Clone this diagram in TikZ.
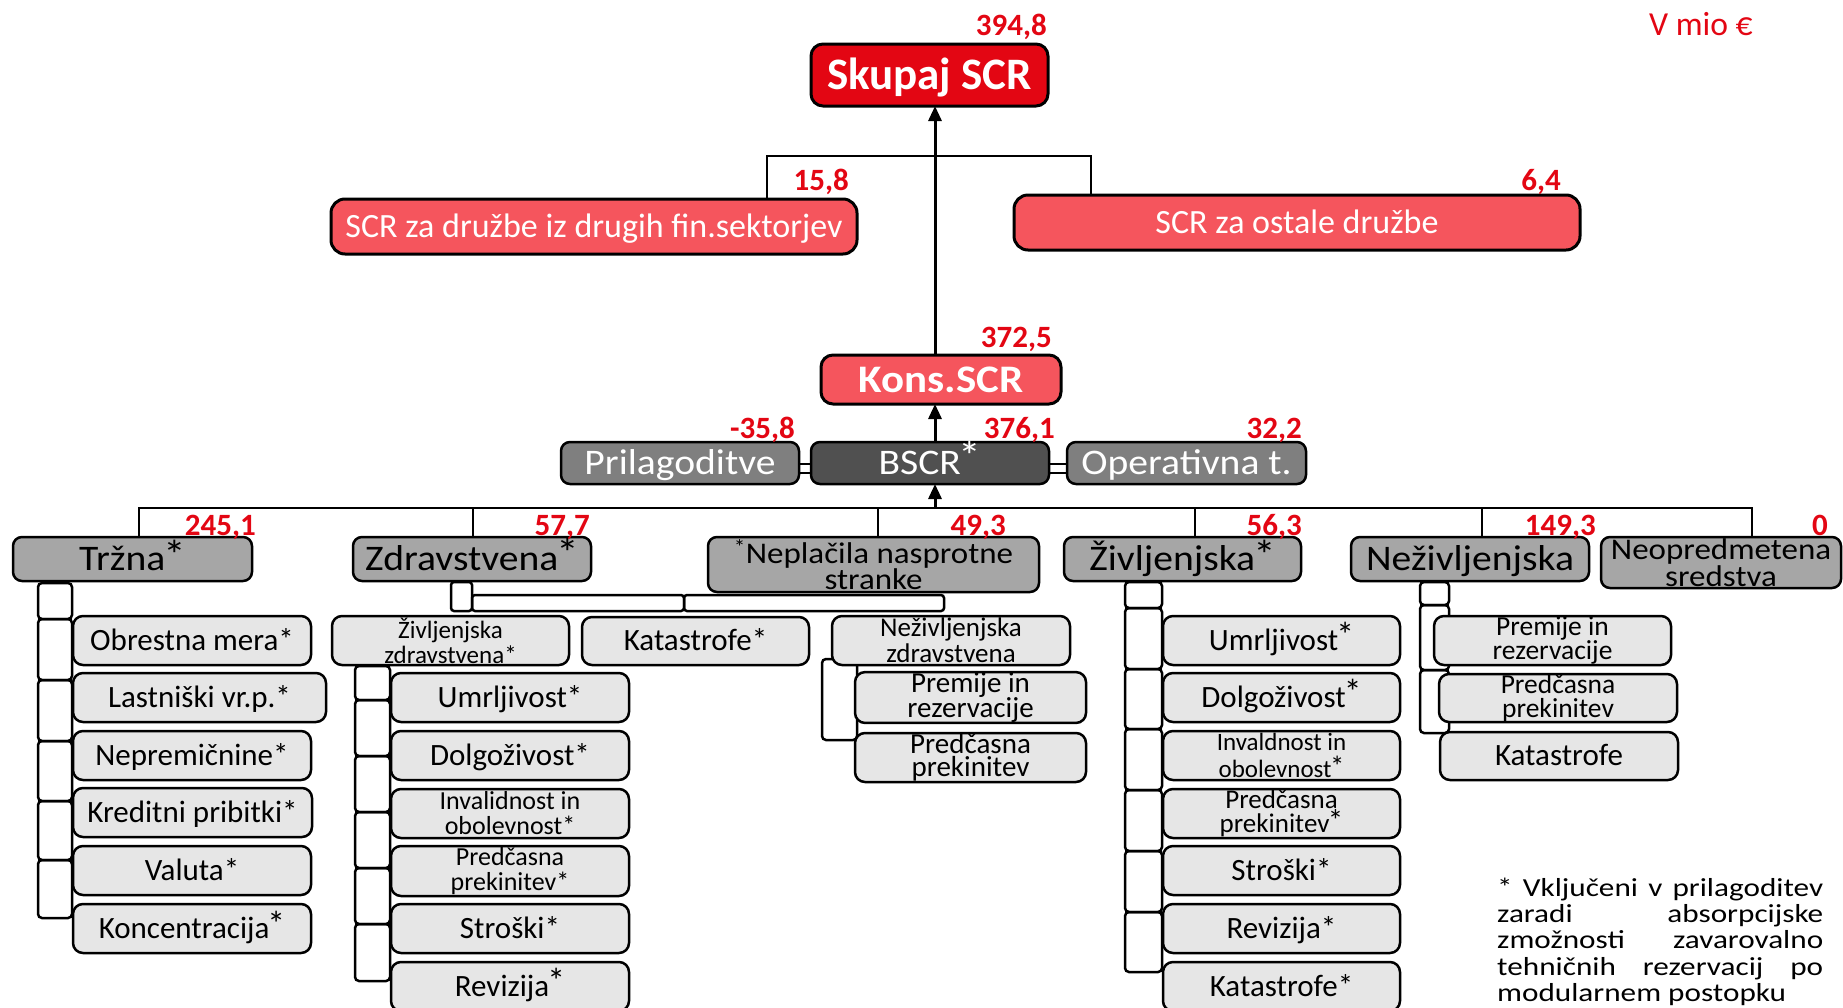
\documentclass[tikz,border=0pt]{standalone}
\usepackage{fontspec}
\setmainfont{Carlito}
\newfontfamily\widefont[FakeStretch=1.1]{Carlito}
\newfontfamily\fnfont[FakeStretch=1.2]{Carlito}
\usetikzlibrary{arrows.meta}
\definecolor{scrred}{HTML}{E30613}
\definecolor{salmon}{HTML}{F5555D}
\definecolor{darkg}{HTML}{505050}
\definecolor{midg}{HTML}{7F7F7F}
\definecolor{catg}{HTML}{A6A6A6}
\definecolor{subg}{HTML}{E6E6E6}
\definecolor{numred}{HTML}{E30613}
\newcommand\bx[7]{\node[#6, minimum width={(#4)-(#2)}, minimum height={(#5)-(#3)}] (#1) at ({((#2)+(#4))/2},{((#3)+(#5))/2}) {#7};}
\newcommand\ladder[3]{\foreach \ya/\yb in {#3}{\draw[conn, rounded corners=4pt] (#1,\ya) rectangle (#2,\yb);}}
\newcommand\astr[1]{\kern-.06em\raisebox{#1}{\scalebox{1.15}{*}}}
\tikzset{
 onel/.style={text height=#1, text depth=0pt},
 topbox/.style={draw=black, line width=3pt, rounded corners=12pt, inner sep=0pt, outer sep=0pt, text=white},
 catbox/.style={draw=black, line width=2.5pt, rounded corners=9pt, inner sep=0pt, outer sep=0pt, fill=catg, onel=23pt, font=\widefont\fontsize{36}{36}\selectfont},
 cattwo/.style={draw=black, line width=2.5pt, rounded corners=9pt, inner sep=0pt, outer sep=0pt, fill=catg, align=center, font=\widefont\fontsize{30}{21}\selectfont},
 subbox/.style={draw=black, line width=2.5pt, rounded corners=10pt, fill=subg, inner sep=0pt, outer sep=0pt, onel=19.8pt, font=\fontsize{31}{31}\selectfont},
 subtwo/.style={draw=black, line width=2.5pt, rounded corners=10pt, fill=subg, inner sep=0pt, outer sep=0pt, align=center, font=\fontsize{26}{25}\selectfont},
 num/.style={text=numred, font=\bfseries\fontsize{31}{31}\selectfont, anchor=base east, inner sep=0pt},
 conn/.style={line width=2.5pt, draw=black},
 arr/.style={line width=3pt, draw=black, -{Triangle[length=15pt,width=13pt]}},
 fnline/.style={anchor=base west, inner sep=0pt, font=\fnfont\fontsize{26}{26}\selectfont},
}
\begin{document}
\begin{tikzpicture}[x=1pt,y=-1pt]
\useasboundingbox (0,0) rectangle (1843,1007);
\clip (0,0) rectangle (1843,1007);
% ---------- connectors (behind boxes) ----------
\ladder{38}{72}{583/619,619/680,680/741,741/801,801/860,860/918}
\draw[conn, rounded corners=3pt] (451,582) rectangle (472,611);
\draw[conn, rounded corners=3pt] (472,595) rectangle (684,611);
\draw[conn, rounded corners=3pt] (684,595) rectangle (944,611);
\ladder{355}{390}{666/700,700/756,756/812,812/868,868/924,924/981}
\draw[conn, rounded corners=4pt] (822,659) rectangle (857,740);
\ladder{1125}{1162}{582/608,608/669,669/729,729/790,790/851,851/912,912/972}
\ladder{1420}{1449}{582/605,605/670,670/733}
% ---------- top boxes ----------
\bx{skupaj}{811}{44}{1048}{106}{topbox, fill=scrred, onel=29pt, font=\bfseries\fontsize{45}{45}\selectfont}{Skupaj SCR}
\bx{drugi}{331}{199}{857}{254}{topbox, fill=salmon, rounded corners=14pt, onel=22pt, font=\fontsize{34}{34}\selectfont}{SCR za družbe iz drugih fin.sektorjev}
\bx{ostale}{1014}{195}{1580}{250}{topbox, fill=salmon, rounded corners=14pt, onel=22pt, font=\fontsize{34}{34}\selectfont}{SCR za ostale družbe}
\bx{kons}{821}{355}{1061}{404}{topbox, fill=salmon, onel=25pt, font=\widefont\bfseries\fontsize{39}{39}\selectfont}{Kons.SCR}
\bx{prilag}{561}{442}{799}{484}{topbox, line width=2.5pt, rounded corners=9pt, fill=midg, onel=23pt, font=\widefont\fontsize{36}{36}\selectfont}{Prilagoditve}
\bx{bscr}{811}{442}{1049}{484}{topbox, line width=2.5pt, rounded corners=9pt, fill=darkg, onel=23pt, font=\widefont\fontsize{36}{36}\selectfont}{BSCR\astr{.1em}}
\bx{oper}{1067}{442}{1306}{484}{topbox, line width=2.5pt, rounded corners=9pt, fill=midg, onel=23pt, font=\widefont\fontsize{36}{36}\selectfont}{Operativna t.}
% ---------- categories ----------
\bx{trz}{13}{537}{252}{581}{catbox}{Tržna\astr{.04em}}
\bx{zdr}{353}{537}{591}{581}{catbox}{Zdravstvena\astr{.08em}}
\bx{nep}{708}{537}{1039}{592}{cattwo}{\textsuperscript{*}Neplačila nasprotne\\stranke}
\bx{ziv}{1064}{537}{1301}{581}{catbox}{Življenjska\astr{.04em}}
\bx{nez}{1351}{537}{1589}{581}{catbox}{Neživljenjska}
\bx{neo}{1601}{537}{1841}{588}{cattwo}{Neopredmetena\\sredstva}
% ---------- top connectors ----------
\coordinate (mx) at (935,0);
\coordinate (tl) at (767,156);
\coordinate (tr) at (1091,156);
\draw[conn] (tl |- drugi.north) -- (tl) -- (tr) -- (tr |- ostale.north);
\draw[arr] (kons.north -| mx) -- (skupaj.south -| mx);
\draw[arr] (bscr.north -| mx) -- (kons.south -| mx);
\draw[conn] ([yshift=-1pt]prilag.east) -- ([yshift=-1pt]bscr.west);
\draw[conn] ([yshift=-10pt]prilag.east) -- ([yshift=-10pt]bscr.west);
\draw[conn] ([yshift=-1pt]bscr.east) -- ([yshift=-1pt]oper.west);
\draw[conn] ([yshift=-10pt]bscr.east) -- ([yshift=-10pt]oper.west);
\coordinate (busm) at (935,508);
\coordinate (b1) at (139,508);
\coordinate (b2) at (473,508);
\coordinate (b3) at (878,508);
\coordinate (b4) at (1195,508);
\coordinate (b5) at (1482,508);
\coordinate (b6) at (1752,508);
\draw[conn] (b1 |- trz.north) -- (b1) -- (b6) -- (b6 |- neo.north);
\foreach \b/\n in {b2/zdr, b3/nep, b4/ziv, b5/nez} {\draw[conn] (\b) -- (\b |- \n.north);}
\draw[arr] (busm) -- (bscr.south -| busm);
% ---------- Trzna ----------
\bx{t1}{73}{616}{311}{665}{subbox}{Obrestna mera*}
\bx{t2}{73}{673}{326}{722}{subbox}{Lastniški vr.p.*}
\bx{t3}{73}{731}{311}{780}{subbox}{Nepremičnine*}
\bx{t4}{73}{788}{312}{837}{subbox}{Kreditni pribitki*}
\bx{t5}{73}{846}{311}{895}{subbox}{Valuta*}
\bx{t6}{73}{904}{311}{953}{subbox}{Koncentracija\astr{.06em}}
% ---------- Zdravstvena ----------
\bx{zz}{332}{616}{569}{665}{subtwo, font=\fontsize{25}{25}\selectfont}{Življenjska\\zdravstvena*}
\bx{zk}{582}{617}{809}{665}{subbox}{Katastrofe*}
\bx{zn}{832}{616}{1070}{665}{subtwo, font=\fontsize{27}{26}\selectfont}{Neživljenjska\\zdravstvena}
\bx{zn1}{855}{673}{1086}{722}{subtwo, font=\fontsize{29}{23}\selectfont}{Premije in\\rezervacije}
\bx{zn2}{855}{733}{1086}{782}{subtwo, font=\fontsize{29}{23}\selectfont}{Predčasna\\prekinitev}
\bx{zz1}{391}{673}{629}{722}{subbox}{Umrljivost*}
\bx{zz2}{391}{731}{629}{780}{subbox}{Dolgoživost*}
\bx{zz3}{391}{789}{629}{838}{subtwo}{Invalidnost in\\obolevnost*}
\bx{zz4}{391}{846}{629}{896}{subtwo}{Predčasna\\prekinitev*}
\bx{zz5}{391}{904}{629}{953}{subbox}{Stroški*}
\bx{zz6}{391}{962}{629}{1011}{subbox}{Revizija\astr{.1em}}
% ---------- Zivljenjska ----------
\bx{l1}{1163}{616}{1400}{665}{subbox}{Umrljivost\astr{.1em}}
\bx{l2}{1163}{673}{1400}{722}{subbox}{Dolgoživost\astr{.1em}}
\bx{l3}{1163}{731}{1400}{780}{subtwo, font=\fontsize{25}{27}\selectfont}{Invaldnost in\\obolevnost\astr{.04em}}
\bx{l4}{1163}{789}{1400}{838}{subtwo, font=\fontsize{27}{22}\selectfont}{Predčasna\\prekinitev\astr{.04em}}
\bx{l5}{1163}{846}{1400}{895}{subbox}{Stroški*}
\bx{l6}{1163}{904}{1400}{953}{subbox}{Revizija*}
\bx{l7}{1163}{962}{1400}{1011}{subbox}{Katastrofe*}
% ---------- Nezivljenjska ----------
\bx{n1}{1434}{616}{1671}{665}{subtwo, font=\fontsize{27.5}{24}\selectfont}{Premije in\\rezervacije}
\bx{n2}{1439}{674}{1677}{722}{subtwo, font=\fontsize{27.5}{24}\selectfont}{Predčasna\\prekinitev}
\bx{n3}{1440}{732}{1678}{780}{subbox}{Katastrofe}
% ---------- numbers ----------
\node[num] (v1) at (1047,35) {394,8};
\node[num] (v2) at (849,190) {15,8};
\node[num] (v3) at (1561,190) {6,4};
\node[num] (v4) at (1052,347) {372,5};
\node[num] (v5) at (795,438) {-35,8};
\node[num] (v6) at (1055,438) {376,1};
\node[num] (v7) at (1302,438) {32,2};
\node[num] (v8) at (256,535) {245,1};
\node[num] (v9) at (590,535) {57,7};
\node[num] (v10) at (1006,535) {49,3};
\node[num] (v11) at (1302,535) {56,3};
\node[num] (v12) at (1596,535) {149,3};
\node[num] (v13) at (1828,535) {0};
\node[anchor=base west, inner sep=0pt, text=numred, font=\fontsize{33.6}{34}\selectfont] (unit) at (1649,35) {V mio €};
% ---------- footnote ----------
\node[fnline] (fn1) at (1497,896) {\makebox[326pt][s]{* Vključeni v prilagoditev}};
\node[fnline] (fn2) at (1497,922) {\makebox[326pt][s]{zaradi absorpcijske}};
\node[fnline] (fn3) at (1497,948) {\makebox[326pt][s]{zmožnosti zavarovalno}};
\node[fnline] (fn4) at (1497,975) {\makebox[326pt][s]{tehničnih rezervacij po}};
\node[fnline] (fn5) at (1497,1001) {modularnem postopku};
\end{tikzpicture}
\end{document}
